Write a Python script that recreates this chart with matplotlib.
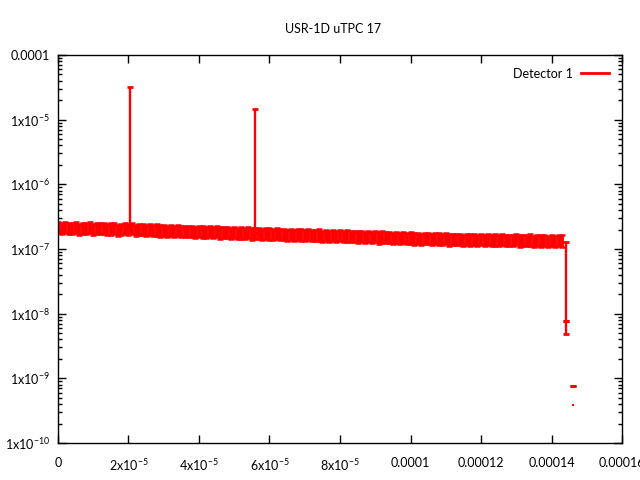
import numpy as np
import matplotlib
matplotlib.use('Agg')
import matplotlib.pyplot as plt
from matplotlib.lines import Line2D
from matplotlib.ticker import FixedLocator, LogLocator, NullFormatter

plt.rcParams['font.family'] = ['Lato', 'DejaVu Sans']
plt.rcParams['mathtext.fontset'] = 'custom'
plt.rcParams['mathtext.rm'] = 'Lato'
plt.rcParams['mathtext.it'] = 'Lato'

# band of measurements, one per microsecond bin (values in units of 1e-7)
bin_width = 1e-6
band_y = [
    2.12, 2.08, 2.15, 2.05, 2.10, 2.13, 2.02, 2.09, 2.06, 2.14, 2.01, 2.07,
    2.05, 2.10, 1.98, 2.04, 2.08, 1.96, 2.02, 2.06, 1.99, 2.05, 1.95, 2.01,
    1.99, 1.94, 2.02, 1.92, 1.97, 1.90, 1.95, 1.88, 1.93, 1.86, 1.91, 1.87,
    1.89, 1.84, 1.88, 1.81, 1.86, 1.83, 1.79, 1.85, 1.80, 1.84, 1.77, 1.82,
    1.79, 1.75, 1.81, 1.74, 1.77, 1.72, 1.78, 1.71, 1.76, 1.73, 1.69, 1.74,
    1.71, 1.67, 1.73, 1.66, 1.70, 1.64, 1.69, 1.62, 1.67, 1.65, 1.61, 1.66,
    1.63, 1.60, 1.65, 1.58, 1.62, 1.57, 1.61, 1.55, 1.60, 1.56, 1.59, 1.54,
    1.57, 1.53, 1.58, 1.51, 1.55, 1.50, 1.54, 1.48, 1.53, 1.49, 1.52, 1.47,
    1.50, 1.46, 1.51, 1.44, 1.48, 1.43, 1.47, 1.42, 1.46, 1.44, 1.41, 1.45,
    1.43, 1.40, 1.44, 1.38, 1.42, 1.39, 1.41, 1.37, 1.42, 1.38, 1.40, 1.36,
    1.39, 1.37, 1.41, 1.35, 1.38, 1.36, 1.40, 1.34, 1.37, 1.35, 1.39, 1.33,
    1.36, 1.34, 1.38, 1.32, 1.35, 1.33, 1.37, 1.31, 1.34, 1.32, 1.35, 1.33,
]
band_factor = 1.22   # error bar spans y/f .. y*f

# isolated points drawn as low..high error bars
extra_x = [20.4e-6, 55.9e-6, 144.1e-6, 144.1e-6, 146.2e-6]
extra_lo = [2.0e-7, 1.75e-7, 7.7e-9, 4.8e-9, 7.6e-10]
extra_hi = [3.25e-5, 1.46e-5, 1.3e-7, 7.7e-9, 7.6e-10]
dot_x = [146.0e-6]
dot_y = [3.9e-10]

red = '#ff0000'

fig = plt.figure(figsize=(6.4, 4.8), dpi=100)
ax = fig.add_axes([0.0906, 0.0771, 0.8813, 0.8083])

bx = np.arange(len(band_y)) * bin_width
by = np.array(band_y) * 1e-7
ax.errorbar(bx, by, yerr=[by - by / band_factor, by * band_factor - by],
            fmt='none', ecolor=red, elinewidth=2.8, capsize=2.5, capthick=1.8)

ex = np.array(extra_x)
elo = np.array(extra_lo)
ehi = np.array(extra_hi)
ax.errorbar(ex, elo, yerr=[np.zeros_like(elo), ehi - elo], fmt='none',
            ecolor=red, elinewidth=1.7, capsize=2.5, capthick=2.0)
ax.plot(dot_x, dot_y, 's', color=red, markersize=1.5, markeredgewidth=0)

ax.set_yscale('log')
ax.set_xlim(0, 0.00016)
ax.set_ylim(1e-10, 1e-4)

xticks = [0, 2e-5, 4e-5, 6e-5, 8e-5, 1e-4, 1.2e-4, 1.4e-4, 1.6e-4]
xlabels = ['0', r'2x10$^{-5}$', r'4x10$^{-5}$', r'6x10$^{-5}$', r'8x10$^{-5}$',
           '0.0001', '0.00012', '0.00014', '0.00016']
ax.xaxis.set_major_locator(FixedLocator(xticks))
ax.set_xticklabels(xlabels)

yticks = [1e-10, 1e-9, 1e-8, 1e-7, 1e-6, 1e-5, 1e-4]
ylabels = [r'1x10$^{-10}$', r'1x10$^{-9}$', r'1x10$^{-8}$', r'1x10$^{-7}$',
           r'1x10$^{-6}$', r'1x10$^{-5}$', '0.0001']
ax.yaxis.set_major_locator(FixedLocator(yticks))
ax.set_yticklabels(ylabels)
ax.yaxis.set_minor_locator(LogLocator(base=10, subs=np.arange(2, 10), numticks=20))
ax.yaxis.set_minor_formatter(NullFormatter())

ax.tick_params(which='both', direction='in', top=True, right=True,
               labelsize=9, width=1, pad=6)
ax.tick_params(which='major', length=6)
ax.tick_params(which='minor', length=3)
ax.tick_params(axis='x', pad=10)
for s in ax.spines.values():
    s.set_linewidth(1)

fig.text(0.52, 0.94, 'USR-1D uTPC 17', ha='center', va='center', fontsize=9)

handle = Line2D([], [], color=red, linewidth=2)
ax.legend([handle], ['Detector 1'], loc='upper right', frameon=False,
          markerfirst=False, fontsize=9, handlelength=2.3, handletextpad=0.6,
          bbox_to_anchor=(0.993, 0.99), borderaxespad=0.3)

fig.savefig('out.png', dpi=100)
